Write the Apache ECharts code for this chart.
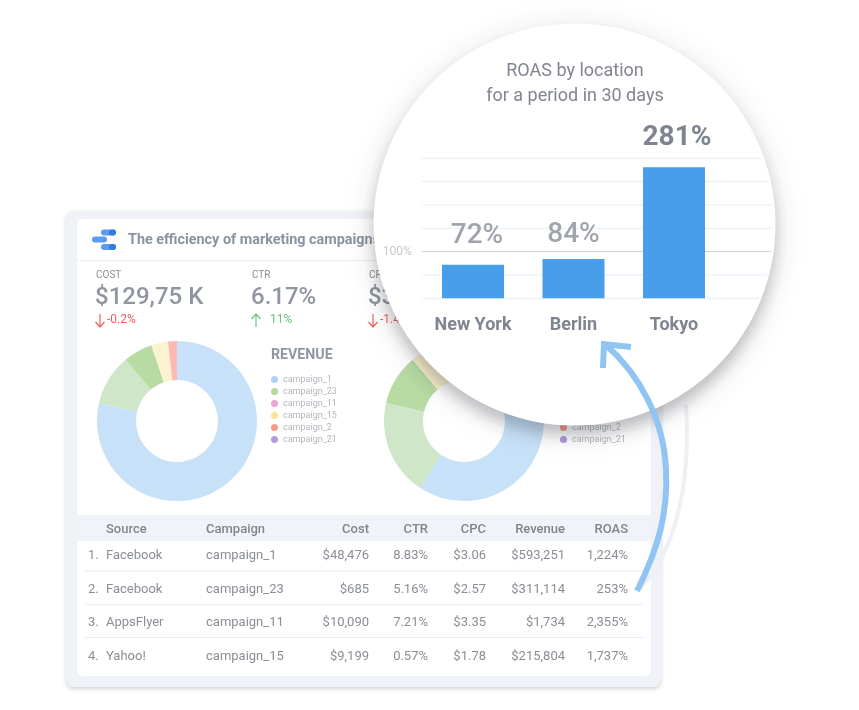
<!DOCTYPE html>
<html>
<head>
<meta charset="utf-8">
<style>
html, body { margin: 0; padding: 0; background: #fff; }
#main { width: 859px; height: 710px; }
</style>
<script src="https://cdn.jsdelivr.net/npm/echarts@6/dist/echarts.min.js"></script>
</head>
<body>
<div id="main"></div>
<script>
// data
var locations = ['New York', 'Berlin', 'Tokyo'];
var roasValues = [72, 84, 281];
var gridValues = [0, 50, 100, 150, 200, 250, 300];

var campaigns = ['campaign_1', 'campaign_23', 'campaign_11', 'campaign_15', 'campaign_2', 'campaign_21'];
var legendColors = ['#aed0f3', '#b3d8a0', '#e8a5d8', '#fde595', '#f99a89', '#b39bdb'];
var sliceColors = ['#c7e1f8', '#d0e6c8', '#b7dba3', '#fbf2cf', '#fdb7b4', '#b39bdb'];
var revenueShare = [78.6, 10.3, 5.9, 3.4, 1.8, 0];
var costShare = [59.4, 19.2, 10.3, 6, 5.1, 0];

var tableHead = ['Source', 'Campaign', 'Cost', 'CTR', 'CPC', 'Revenue', 'ROAS'];
var tableRows = [
    ['1.', 'Facebook', 'campaign_1', '$48,476', '8.83%', '$3.06', '$593,251', '1,224%'],
    ['2.', 'Facebook', 'campaign_23', '$685', '5.16%', '$2.57', '$311,114', '253%'],
    ['3.', 'AppsFlyer', 'campaign_11', '$10,090', '7.21%', '$3.35', '$1,734', '2,355%'],
    ['4.', 'Yahoo!', 'campaign_15', '$9,199', '0.57%', '$1.78', '$215,804', '1,737%']
];
var rowY = [555, 589, 622, 656];
var kpis = [
    {name: 'COST', value: '$129,75 K', delta: '-0.2%', up: false, x: 96},
    {name: 'CTR', value: '6.17%', delta: '11%', up: true, x: 252},
    {name: 'CPC', value: '$3.06', delta: '-1.4%', up: false, x: 369}
];

var FONT = 'Roboto, sans-serif';
var CIRCLE = {cx: 574.5, cy: 224.5, r: 201};
var els = [];

function rect(x, y, w, h, r, fill, z, extra) {
    var style = {fill: fill};
    for (var k in extra) style[k] = extra[k];
    els.push({type: 'rect', silent: true, z: z, shape: {x: x, y: y, width: w, height: h, r: r}, style: style});
}
function text(str, x, y, size, weight, color, align, z) {
    els.push({
        type: 'text', silent: true, z: z || 3, x: x, y: y + 1.5,
        style: {
            text: str, fill: color, font: weight + ' ' + size + 'px ' + FONT,
            textAlign: align || 'left', textVerticalAlign: 'middle'
        }
    });
}
function polyline(points, color, width, z) {
    els.push({
        type: 'polyline', silent: true, z: z,
        shape: {points: points},
        style: {fill: null, stroke: color, lineWidth: width, lineJoin: 'miter'}
    });
}
function curve(p, color, width, z) {
    els.push({
        type: 'bezierCurve', silent: true, z: z,
        shape: {x1: p[0], y1: p[1], cpx1: p[2], cpy1: p[3], cpx2: p[4], cpy2: p[5], x2: p[6], y2: p[7]},
        style: {fill: null, stroke: color, lineWidth: width}
    });
}
function disc(r, z, shadow) {
    els.push({
        type: 'circle', silent: true, z: z,
        shape: {cx: CIRCLE.cx, cy: CIRCLE.cy, r: r},
        style: {fill: '#ffffff', shadowBlur: shadow[0], shadowOffsetY: shadow[1], shadowColor: shadow[2]}
    });
}

// dashboard card
rect(66, 211, 595, 476, 8, '#eff3f8', 1, {shadowBlur: 4, shadowOffsetY: 2, shadowColor: 'rgba(120,130,140,0.35)'});
rect(77, 219, 574, 457, 6, '#ffffff', 1);
rect(77, 260, 574, 1, 0, '#e4eef8', 1);
rect(77, 515, 574, 26, 0, '#f0f4f9', 1);

// logo
rect(101, 229.5, 15, 6, 3, '#5a9bef', 2);
rect(109, 229.5, 7, 6, 3, '#2f7de0', 2);
rect(92, 236.5, 15, 6, 3, '#5a9bef', 2);
rect(101, 244, 15, 6, 3, '#5a9bef', 2);
rect(109, 244, 7, 6, 3, '#2f7de0', 2);
text('The efficiency of marketing campaigns', 128, 238.5, 14.4, 'bold', '#8a93a0');

kpis.forEach(function (k) {
    var c = k.up ? '#66c27c' : '#f25d5d';
    text(k.name, k.x, 273.5, 10, 'normal', '#8e8e8e');
    text(k.value, k.x - 1, 296.5, 24, '500', '#9096a1');
    var ax = k.x + 4;
    if (k.up) {
        polyline([[ax, 327], [ax, 314]], c, 1.2, 3);
        polyline([[ax - 4.5, 319], [ax, 314], [ax + 4.5, 319]], c, 1.2, 3);
    } else {
        polyline([[ax, 314], [ax, 327]], c, 1.2, 3);
        polyline([[ax - 4.5, 322], [ax, 327], [ax + 4.5, 322]], c, 1.2, 3);
    }
    text(k.delta, k.x + (k.up ? 18 : 11), 318.5, 12, 'normal', c);
});
text('REVENUE', 271, 354, 14.2, 'bold', '#8f97a3');
text('COST', 561, 354, 14.2, 'bold', '#8f97a3');

// table
var colX = [106, 206, 369, 428, 486, 565, 628];
tableHead.forEach(function (h, i) {
    text(h, colX[i], 528.5, 13, '500', '#7f858e', i < 2 ? 'left' : 'right');
});
tableRows.forEach(function (row, r) {
    text(row[0], 88, rowY[r] - 0.5, 13, 'normal', '#8a8e95');
    for (var i = 1; i < row.length; i++) {
        text(row[i], colX[i - 1], rowY[r] - 0.5, 13, 'normal', '#8a8e95', i < 3 ? 'left' : 'right');
    }
});
[570.5, 604, 637].forEach(function (y) {
    rect(85, y, 558, 1, 0, '#e4eef8', 2);
});

// gray echo of the arrow, then the magnifier circle
curve([640, 588, 668, 560, 692, 500, 686, 405], '#edf0f5', 4, 4);
disc(CIRCLE.r - 1, 9, [34, 6, 'rgba(40,45,55,0.14)']);
disc(CIRCLE.r, 10, [14, 10, 'rgba(40,45,55,0.24)']);
text('ROAS by location', 575, 70, 18, 'normal', '#80858f', 'center', 11);
text('for a period in 30 days', 575, 95, 18, 'normal', '#80858f', 'center', 11);

// blue arrow
curve([637, 591, 660, 545, 668, 510, 666, 470], '#90c4f3', 6, 14);
curve([666, 470, 664, 420, 640, 375, 606, 345], '#90c4f3', 6, 14);
polyline([[603, 368], [604, 344], [631, 347]], '#90c4f3', 6, 14);

function pieSeries(center, values) {
    return {
        type: 'pie',
        z: 2,
        silent: true,
        animation: false,
        center: center,
        radius: [41, 80],
        startAngle: 90,
        label: {show: false},
        labelLine: {show: false},
        data: campaigns.map(function (name, i) {
            return {name: name, value: values[i], itemStyle: {color: sliceColors[i]}};
        })
    };
}
function pieLegend(left) {
    return {
        left: left, top: 374, z: 3,
        orient: 'vertical',
        icon: 'circle',
        itemWidth: 7,
        itemHeight: 7,
        itemGap: 1,
        padding: 0,
        selectedMode: false,
        textStyle: {fontFamily: FONT, fontSize: 9, color: '#b3b6bd', lineHeight: 11},
        data: campaigns.map(function (name, i) {
            return {name: name, itemStyle: {color: legendColors[i]}};
        })
    };
}

var mainChart = echarts.init(document.getElementById('main'));

mainChart.setOption({
    animation: false,
    backgroundColor: '#ffffff',
    graphic: {elements: els},
    legend: [pieLegend(271), pieLegend(560)],
    grid: {left: 422.75, width: 301.5, top: 158.3, height: 140},
    xAxis: {
        type: 'category',
        data: locations,
        z: 11,
        axisLine: {show: false},
        axisTick: {show: false},
        axisLabel: {
            margin: 18, fontFamily: FONT, fontSize: 18, fontWeight: 'bold', color: '#7e8590'
        }
    },
    yAxis: {
        type: 'value',
        min: 0,
        max: 300,
        interval: 50,
        z: 11,
        axisLine: {show: false},
        axisTick: {show: false},
        splitLine: {show: false},
        axisLabel: {
            margin: 11, fontFamily: FONT, fontSize: 12, color: '#c5c8cd',
            formatter: function (v) { return v === 100 ? '100%' : ''; }
        }
    },
    series: [
        pieSeries([177, 421], revenueShare),
        pieSeries([464, 421], costShare),
        {
            // grid lines stop where they reach the edge of the circle
            type: 'custom',
            z: 11,
            silent: true,
            data: gridValues.map(function (v) { return [0, v]; }),
            renderItem: function (params, api) {
                var v = api.value(1);
                var y = api.coord([0, v])[1];
                var dy = y - CIRCLE.cy;
                var x2 = CIRCLE.cx + Math.sqrt(CIRCLE.r * CIRCLE.r - dy * dy) - 2;
                return {
                    type: 'line',
                    shape: {x1: params.coordSys.x - 1, y1: y, x2: x2, y2: y},
                    style: {stroke: v === 100 ? '#c9ced6' : '#e3effa', lineWidth: 1}
                };
            }
        },
        {
            type: 'bar',
            z: 12,
            silent: true,
            barWidth: 62,
            itemStyle: {color: '#499ee9'},
            data: roasValues.map(function (v, i) {
                var top = i === 2;
                return {
                    value: v,
                    label: {
                        show: true,
                        position: 'top',
                        distance: [15, 10, 15][i],
                        offset: [[4, 0], [0, 0], [3, 0]][i],
                        formatter: '{c}%',
                        fontFamily: FONT,
                        fontSize: 28,
                        fontWeight: top ? 'bold' : '500',
                        color: top ? '#7e8590' : '#a0a4ac'
                    }
                };
            })
        }
    ]
});
</script>
</body>
</html>
